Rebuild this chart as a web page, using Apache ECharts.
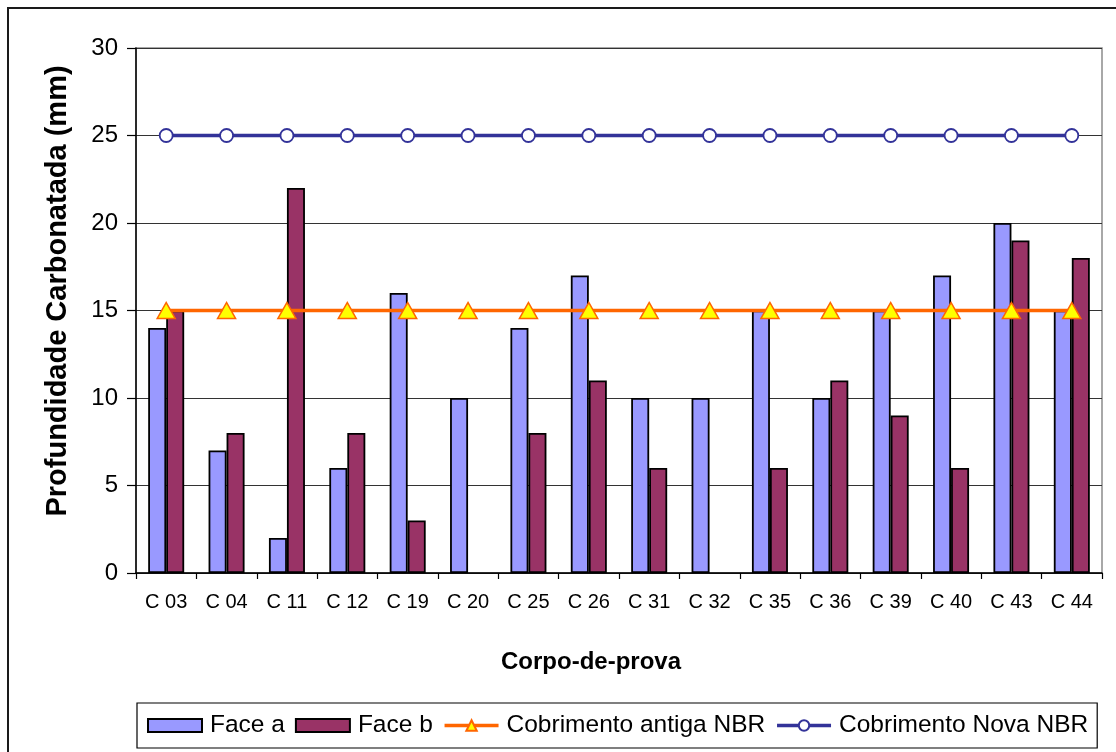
<!DOCTYPE html>
<html>
<head>
<meta charset="utf-8">
<script src="https://cdn.jsdelivr.net/npm/echarts@6/dist/echarts.min.js"></script>
<style>
  html, body { margin: 0; padding: 0; background: #fff; }
  #chart { width: 1116px; height: 752px; }
</style>
</head>
<body>
<div id="chart"></div>
<script>
// Specimens (corpos-de-prova)
const categories = ['C 03', 'C 04', 'C 11', 'C 12', 'C 19', 'C 20', 'C 25', 'C 26',
                    'C 31', 'C 32', 'C 35', 'C 36', 'C 39', 'C 40', 'C 43', 'C 44'];
// Carbonation depth (mm) measured on each face
const faceA = [14, 7, 2, 6, 16, 10, 14, 17, 10, 10, 15, 10, 15, 17, 20, 15];
const faceB = [15, 8, 22, 8, 3, null, 8, 11, 6, null, 6, 11, 9, 6, 19, 18];
// Required concrete cover (mm): old and new NBR
const coverOld = [15, 15, 15, 15, 15, 15, 15, 15, 15, 15, 15, 15, 15, 15, 15, 15];
const coverNew = [25, 25, 25, 25, 25, 25, 25, 25, 25, 25, 25, 25, 25, 25, 25, 25];
const yTicks = { min: 0, max: 30, step: 5 };

const FONT = 'Liberation Sans, Arial, sans-serif';
const chart = echarts.init(document.getElementById('chart'), null, { renderer: 'canvas' });

chart.setOption({
  animation: false,
  backgroundColor: '#fff',
  textStyle: { fontFamily: FONT, color: '#000' },
  grid: {
    left: 136, right: 14, top: 48, bottom: 179,
    show: true, borderColor: '#8c8c8c', borderWidth: 1.5, backgroundColor: 'transparent'
  },
  graphic: [
    { type: 'rect', silent: true, z: -1,
      shape: { x: 8, y: 8, width: 1130, height: 770 },
      style: { fill: 'none', stroke: '#1a1a1a', lineWidth: 2 } },
    { type: 'text', x: 58, y: 291, rotation: Math.PI / 2,
      style: { text: 'Profundidade Carbonatada (mm)', font: 'bold 29px ' + FONT,
               fill: '#000', textAlign: 'center', textVerticalAlign: 'middle' } },
    { type: 'text', x: 591, y: 662,
      style: { text: 'Corpo-de-prova', font: 'bold 24px ' + FONT,
               fill: '#000', textAlign: 'center', textVerticalAlign: 'middle' } }
  ],
  legend: {
    left: 137, top: 703,
    padding: [10, 9, 10, 10],
    itemGap: 10,
    itemWidth: 54, itemHeight: 13,
    borderColor: '#000', borderWidth: 1.2, backgroundColor: '#fff',
    textStyle: { fontSize: 24.5, fontFamily: FONT, color: '#000', padding: [0, 0, 0, 3] },
    data: [
      { name: 'Face a', icon: 'rect' },
      { name: 'Face b', icon: 'rect' },
      { name: 'Cobrimento antiga NBR', lineStyle: { width: 3.5 } },
      { name: 'Cobrimento Nova NBR', lineStyle: { width: 3.5 } }
    ]
  },
  xAxis: {
    type: 'category',
    data: categories,
    axisLine: { lineStyle: { color: '#000', width: 1.5 } },
    axisTick: { show: true, length: 6, lineStyle: { color: '#000', width: 1.2 } },
    axisLabel: { fontSize: 20, color: '#000', margin: 19, fontFamily: FONT },
    splitLine: { show: false }
  },
  yAxis: {
    type: 'value',
    min: yTicks.min, max: yTicks.max, interval: yTicks.step,
    axisLine: { show: true, lineStyle: { color: '#000', width: 1.5 } },
    axisTick: { show: true, length: 9, lineStyle: { color: '#000', width: 1.2 } },
    axisLabel: { fontSize: 24, color: '#000', margin: 18, fontFamily: FONT },
    splitLine: { show: true, lineStyle: { color: '#333', width: 1 } }
  },
  series: [
    {
      name: 'Face a', type: 'bar', data: faceA,
      barWidth: 18, barGap: '0%',
      itemStyle: { color: '#9999FF', borderColor: '#000', borderWidth: 1.8 },
      z: 2
    },
    {
      name: 'Face b', type: 'bar', data: faceB,
      barWidth: 18, barGap: '0%',
      itemStyle: { color: '#993366', borderColor: '#000', borderWidth: 1.8 },
      z: 2
    },
    {
      name: 'Cobrimento antiga NBR', type: 'line', data: coverOld,
      symbol: 'triangle', symbolSize: [18, 16],
      lineStyle: { color: '#FF6600', width: 3.5 },
      itemStyle: { color: '#FFFF00', borderColor: '#FF6600', borderWidth: 1.5 },
      z: 5
    },
    {
      name: 'Cobrimento Nova NBR', type: 'line', data: coverNew,
      symbol: 'circle', symbolSize: 13,
      lineStyle: { color: '#333399', width: 3.5 },
      itemStyle: { color: '#fff', borderColor: '#333399', borderWidth: 1.8 },
      z: 5
    }
  ]
});
</script>
</body>
</html>
